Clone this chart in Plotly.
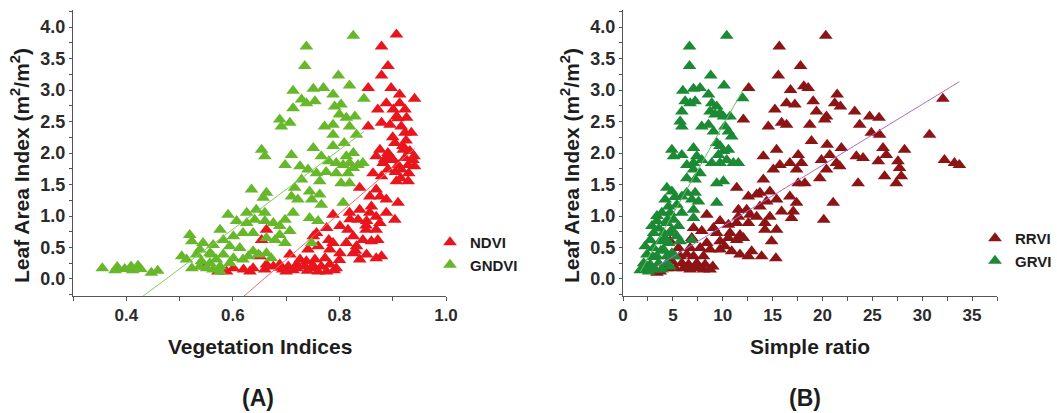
import plotly.graph_objects as go

# ---- Panel A: LAI vs. normalised vegetation indices ----
NDVI_X = [0.907, 0.879, 0.891, 0.879, 0.854, 0.897, 0.913, 0.941, 0.888, 0.872,
          0.913, 0.901, 0.923, 0.907, 0.926, 0.879, 0.895, 0.854, 0.916, 0.935,
          0.923, 0.904, 0.919, 0.876, 0.891, 0.932, 0.869, 0.901, 0.923, 0.938,
          0.882, 0.910, 0.929, 0.941, 0.891, 0.916, 0.863, 0.879, 0.907, 0.929,
          0.838, 0.869, 0.857, 0.876, 0.888, 0.910, 0.838, 0.857, 0.869, 0.888,
          0.788, 0.819, 0.835, 0.851, 0.876, 0.904, 0.801, 0.816, 0.850, 0.869,
          0.776, 0.757, 0.751, 0.826, 0.844, 0.872, 0.788, 0.813, 0.832, 0.760,
          0.741, 0.782, 0.801, 0.826, 0.851, 0.869, 0.879, 0.707, 0.726, 0.738,
          0.754, 0.773, 0.688, 0.704, 0.720, 0.735, 0.751, 0.766, 0.782, 0.794,
          0.676, 0.663, 0.638, 0.632, 0.601, 0.588, 0.572, 0.548, 0.654, 0.663,
          0.651, 0.694, 0.713, 0.760, 0.776, 0.838, 0.895, 0.920, 0.905, 0.930,
          0.915, 0.885, 0.940, 0.900, 0.925, 0.910, 0.860, 0.850, 0.830, 0.800,
          0.860, 0.820, 0.780, 0.750, 0.720, 0.690, 0.620, 0.660, 0.700, 0.740,
          0.790]
NDVI_Y = [3.88, 3.69, 3.38, 3.23, 3.03, 3.03, 2.93, 2.86, 2.79, 2.69,
          2.79, 2.69, 2.69, 2.58, 2.56, 2.48, 2.45, 2.42, 2.42, 2.32,
          2.32, 2.16, 2.11, 2.05, 2.00, 2.03, 1.95, 1.89, 1.92, 1.89,
          1.84, 1.81, 1.81, 1.79, 1.74, 1.74, 1.68, 1.63, 1.55, 1.55,
          1.45, 1.42, 1.31, 1.31, 1.26, 1.21, 1.10, 1.05, 0.99, 1.05,
          1.02, 1.05, 0.94, 0.92, 0.89, 0.94, 0.84, 0.78, 0.78, 0.78,
          0.81, 0.73, 0.68, 0.68, 0.62, 0.62, 0.57, 0.57, 0.52, 0.52,
          0.47, 0.47, 0.41, 0.41, 0.39, 0.33, 0.36, 0.39, 0.31, 0.28,
          0.31, 0.33, 0.23, 0.20, 0.17, 0.20, 0.17, 0.20, 0.23, 0.17,
          0.20, 0.23, 0.17, 0.12, 0.17, 0.12, 0.12, 0.20, 0.62, 0.78,
          0.36, 0.15, 0.14, 0.12, 0.12, 0.31, 1.95, 2.05, 1.70, 1.68,
          1.60, 1.90, 1.95, 2.25, 2.20, 2.55, 1.15, 0.85, 0.45, 0.30,
          0.60, 0.95, 0.62, 0.22, 0.23, 0.18, 0.15, 0.15, 0.12, 0.13,
          0.14]

GNDVI_X = [0.355, 0.379, 0.383, 0.397, 0.409, 0.412, 0.422, 0.427, 0.447, 0.459,
           0.738, 0.826, 0.735, 0.798, 0.819, 0.713, 0.751, 0.770, 0.788, 0.846,
           0.729, 0.713, 0.738, 0.754, 0.791, 0.803, 0.800, 0.813, 0.829, 0.688,
           0.707, 0.691, 0.772, 0.788, 0.819, 0.832, 0.788, 0.809, 0.751, 0.654,
           0.660, 0.710, 0.766, 0.813, 0.826, 0.794, 0.807, 0.819, 0.835, 0.844,
           0.698, 0.726, 0.741, 0.757, 0.729, 0.763, 0.803, 0.819, 0.744, 0.763,
           0.748, 0.766, 0.807, 0.710, 0.722, 0.713, 0.698, 0.688, 0.744, 0.760,
           0.707, 0.688, 0.698, 0.679, 0.663, 0.748, 0.635, 0.663, 0.657, 0.660,
           0.644, 0.626, 0.641, 0.660, 0.676, 0.591, 0.607, 0.626, 0.638, 0.619,
           0.601, 0.576, 0.582, 0.563, 0.544, 0.519, 0.523, 0.538, 0.557, 0.594,
           0.613, 0.629, 0.648, 0.663, 0.672, 0.504, 0.513, 0.523, 0.538, 0.551,
           0.563, 0.576, 0.576, 0.594, 0.541, 0.557, 0.569, 0.601, 0.532, 0.560,
           0.582, 0.619, 0.638, 0.788, 0.716, 0.816, 0.826, 0.794, 0.775, 0.780]
GNDVI_Y = [0.17, 0.14, 0.19, 0.16, 0.20, 0.14, 0.21, 0.16, 0.10, 0.13,
           3.69, 3.86, 3.38, 3.23, 3.07, 2.99, 3.02, 3.03, 2.93, 2.86,
           2.85, 2.71, 2.79, 2.82, 2.74, 2.77, 2.61, 2.56, 2.58, 2.53,
           2.48, 2.42, 2.42, 2.45, 2.42, 2.29, 2.29, 2.16, 2.08, 2.05,
           1.95, 1.97, 1.95, 1.95, 2.00, 1.84, 1.81, 1.84, 1.81, 1.84,
           1.81, 1.79, 1.74, 1.68, 1.58, 1.55, 1.52, 1.52, 1.39, 1.34,
           1.26, 1.18, 1.21, 1.31, 1.26, 1.05, 0.94, 0.84, 0.97, 0.92,
           0.76, 0.70, 0.57, 0.62, 0.65, 0.57, 1.42, 1.37, 1.29, 1.05,
           1.10, 1.05, 0.94, 0.92, 0.89, 1.02, 0.92, 0.89, 0.73, 0.73,
           0.68, 0.78, 0.62, 0.54, 0.57, 0.70, 0.60, 0.47, 0.41, 0.52,
           0.49, 0.36, 0.39, 0.41, 0.33, 0.36, 0.31, 0.17, 0.20, 0.17,
           0.15, 0.20, 0.12, 0.25, 0.28, 0.25, 0.31, 0.33, 0.39, 0.39,
           0.39, 0.31, 0.44, 2.11, 1.45, 1.68, 1.76, 1.68, 1.70, 1.87]

# ---- Panel B: LAI vs. simple ratios ----
RRVI_X = [20.33, 15.67, 17.80, 15.57, 12.60, 18.13, 18.57, 16.80, 21.47, 32.07,
          15.23, 16.40, 17.23, 19.07, 21.23, 21.80, 23.23, 19.40, 12.07, 20.40,
          20.23, 24.73, 25.67, 15.90, 16.40, 18.73, 14.57, 23.73, 24.90, 25.73,
          30.73, 18.90, 20.47, 21.90, 15.40, 26.07, 28.23, 14.07, 17.57, 20.73,
          23.40, 24.07, 26.40, 15.73, 16.73, 17.90, 19.90, 21.40, 21.73, 25.60,
          27.57, 32.23, 33.23, 33.73, 15.07, 17.40, 20.40, 27.73, 26.23, 27.90,
          14.07, 17.57, 18.23, 19.73, 23.57, 27.40, 11.40, 13.73, 14.73, 12.57,
          13.40, 15.40, 16.73, 14.40, 17.40, 21.07, 11.57, 12.40, 13.73, 15.90,
          17.07, 8.40, 11.57, 12.73, 13.40, 14.73, 9.73, 16.90, 20.13, 10.57,
          11.40, 12.57, 14.23, 15.40, 7.07, 7.90, 9.40, 14.23, 9.07, 10.73,
          11.73, 12.07, 6.90, 9.73, 10.57, 11.40, 14.90, 8.40, 7.73, 8.73,
          9.73, 10.90, 12.90, 11.73, 12.57, 13.90, 15.33, 6.40, 7.07, 5.73,
          8.07, 4.90, 5.90, 6.57, 7.40, 8.23, 4.40, 5.23, 6.07, 6.73,
          7.40, 8.07, 8.73, 3.73, 3.40, 4.73, 5.57, 6.73, 9.00, 10.20]
RRVI_Y = [3.86, 3.69, 3.38, 3.23, 3.03, 3.06, 3.03, 3.00, 2.93, 2.86,
          2.69, 2.79, 2.77, 2.82, 2.79, 2.74, 2.66, 2.66, 2.53, 2.58,
          2.53, 2.58, 2.56, 2.48, 2.45, 2.45, 2.42, 2.45, 2.32, 2.29,
          2.29, 2.19, 2.13, 2.08, 2.05, 2.08, 2.05, 1.95, 1.97, 1.97,
          1.95, 1.92, 1.97, 1.81, 1.84, 1.84, 1.89, 1.84, 1.79, 1.87,
          1.87, 1.89, 1.84, 1.81, 1.74, 1.74, 1.74, 1.76, 1.63, 1.63,
          1.58, 1.52, 1.52, 1.60, 1.52, 1.52, 1.45, 1.37, 1.39, 1.31,
          1.34, 1.26, 1.31, 1.23, 1.21, 1.21, 1.10, 1.10, 1.15, 1.07,
          1.07, 1.02, 0.99, 1.02, 0.99, 0.99, 0.92, 0.97, 0.94, 0.86,
          0.89, 0.89, 0.89, 0.78, 0.81, 0.76, 0.73, 0.78, 0.81, 0.73,
          0.70, 0.65, 0.65, 0.60, 0.65, 0.62, 0.60, 0.57, 0.49, 0.47,
          0.47, 0.44, 0.44, 0.39, 0.36, 0.36, 0.33, 0.39, 0.36, 0.36,
          0.36, 0.28, 0.25, 0.23, 0.25, 0.23, 0.17, 0.17, 0.17, 0.15,
          0.17, 0.15, 0.15, 0.12, 0.10, 0.60, 0.49, 0.49, 0.20, 0.52]

GRVI_X = [10.40, 6.67, 6.67, 8.80, 10.13, 6.00, 7.07, 7.73, 8.57, 12.00,
          6.23, 6.73, 7.23, 5.90, 8.90, 9.40, 8.73, 9.23, 9.73, 10.07,
          10.73, 5.73, 5.90, 7.90, 8.57, 9.07, 10.23, 10.57, 10.90, 9.40,
          9.73, 7.07, 4.90, 5.90, 5.07, 7.40, 9.57, 10.07, 10.57, 6.40,
          7.07, 7.90, 8.90, 9.73, 10.40, 11.07, 11.57, 7.07, 7.73, 6.40,
          7.23, 9.40, 10.07, 4.40, 4.90, 6.40, 7.23, 5.90, 6.90, 7.57,
          9.40, 4.57, 5.40, 7.07, 3.90, 4.73, 5.90, 5.07, 7.07, 3.40,
          4.40, 5.57, 3.07, 4.07, 4.90, 5.40, 2.73, 3.73, 4.57, 5.73,
          6.90, 3.07, 4.07, 4.90, 2.40, 3.40, 4.40, 5.23, 2.07, 2.73,
          3.57, 4.40, 1.90, 2.57, 3.23, 3.90, 4.73, 3.40, 4.23, 4.73,
          2.90, 2.23, 1.73, 3.60, 4.20, 3.00, 2.50, 3.80, 4.50, 5.20]
GRVI_Y = [3.86, 3.69, 3.38, 3.23, 3.07, 2.99, 3.02, 3.03, 2.93, 2.87,
          2.82, 2.79, 2.82, 2.66, 2.79, 2.74, 2.66, 2.61, 2.63, 2.58,
          2.58, 2.50, 2.42, 2.42, 2.45, 2.34, 2.42, 2.34, 2.26, 2.16,
          2.11, 2.08, 2.05, 1.97, 1.95, 1.95, 1.97, 2.03, 2.05, 1.81,
          1.84, 1.89, 1.84, 1.84, 1.89, 1.84, 1.84, 1.74, 1.68, 1.60,
          1.58, 1.52, 1.55, 1.45, 1.39, 1.37, 1.37, 1.31, 1.26, 1.23,
          1.21, 1.15, 1.18, 1.10, 1.05, 1.05, 1.05, 0.94, 0.97, 0.92,
          0.89, 0.84, 0.73, 0.73, 0.78, 0.68, 0.62, 0.60, 0.57, 0.60,
          0.62, 0.49, 0.47, 0.41, 0.39, 0.36, 0.36, 0.36, 0.25, 0.23,
          0.25, 0.25, 0.15, 0.12, 0.15, 0.15, 0.20, 1.00, 1.26, 0.73,
          0.84, 0.52, 0.14, 0.80, 0.65, 0.35, 0.20, 0.45, 0.95, 1.30]

# Linear fits (slope, intercept) for each index
FIT_NDVI = (7.31, -4.81)
FIT_GNDVI = (6.30, -2.99)
FIT_RRVI = (0.0967, -0.129)
FIT_GRVI = (0.28, -0.37)

C_NDVI, C_GNDVI = "#e8161c", "#67b72b"
C_RRVI, C_GRVI = "#8c1414", "#1c8a34"
L_NDVI, L_GNDVI = "#f06a6a", "#86c95a"
L_RRVI, L_GRVI = "#b868c8", "#63c06c"

BOLD = "Liberation Sans"
TXT = "#1d1d1d"
TICK = "#2b2b2b"


def fit_line(xs, fit):
    lo, hi = min(xs), max(xs)
    return [lo, hi], [fit[0] * lo + fit[1], fit[0] * hi + fit[1]]


def scatter(xs, ys, name, color, xa, ya, legend):
    return go.Scatter(x=xs, y=ys, mode="markers", name=name,
                      xaxis=xa, yaxis=ya, legend=legend,
                      marker=dict(symbol="triangle-up", size=12, color=color,
                                  line=dict(width=0)))


def line(xs, fit, color, xa, ya):
    lx, ly = fit_line(xs, fit)
    return go.Scatter(x=lx, y=ly, mode="lines", showlegend=False,
                      xaxis=xa, yaxis=ya, hoverinfo="skip",
                      line=dict(color=color, width=1))


fig = go.Figure()
fig.add_trace(scatter(NDVI_X, NDVI_Y, "NDVI", C_NDVI, "x", "y", "legend"))
fig.add_trace(scatter(GNDVI_X, GNDVI_Y, "GNDVI", C_GNDVI, "x", "y", "legend"))
fig.add_trace(line(NDVI_X, FIT_NDVI, L_NDVI, "x", "y"))
fig.add_trace(line(GNDVI_X, FIT_GNDVI, L_GNDVI, "x", "y"))
fig.add_trace(scatter(RRVI_X, RRVI_Y, "RRVI", C_RRVI, "x2", "y2", "legend2"))
fig.add_trace(scatter(GRVI_X, GRVI_Y, "GRVI", C_GRVI, "x2", "y2", "legend2"))
fig.add_trace(line(RRVI_X, FIT_RRVI, L_RRVI, "x2", "y2"))
fig.add_trace(line(GRVI_X, FIT_GRVI, L_GRVI, "x2", "y2"))

axis_common = dict(showline=True, linecolor="#555", linewidth=1, mirror=False,
                   showgrid=False, zeroline=False, ticks="outside",
                   tickcolor="#555", tickwidth=1)

yaxis_common = dict(axis_common, range=[-0.27, 4.27], tick0=0, dtick=0.5,
                    tickformat=".1f", ticklen=3,
                    minor=dict(dtick=0.25, tick0=0, ticks="outside", ticklen=3,
                               tickcolor="#555"),
                    tickfont=dict(family=BOLD, size=18, color=TICK, weight="bold"))

xtickfont = dict(family=BOLD, size=17, color=TICK, weight="bold")

W, H = 1057, 413
ML, MR, MT, MB = 73, 60, 10, 117
PW, PH = W - ML - MR, H - MT - MB


def px(xp):
    return (xp - ML) / PW


def py(yp):
    return (H - MB - yp) / PH


legend_font = dict(family=BOLD, size=15, color=TXT, weight="bold")

fig.update_layout(
    width=W, height=H,
    margin=dict(l=ML, r=MR, t=MT, b=MB, autoexpand=False),
    plot_bgcolor="white", paper_bgcolor="white",
    xaxis=dict(axis_common, domain=[0, px(446)], range=[0.3, 1.0],
               tick0=0.4, dtick=0.2, tickformat=".1f", ticklen=4,
               minor=dict(dtick=0.1, tick0=0.3, ticks="outside", ticklen=4,
                          tickcolor="#555"),
               tickfont=xtickfont, anchor="y"),
    yaxis=dict(yaxis_common, domain=[0, 1], anchor="x"),
    xaxis2=dict(axis_common, domain=[px(623), 1], range=[0, 37.5],
                tick0=0, dtick=5, ticklen=4,
                minor=dict(dtick=2.5, tick0=0, ticks="outside", ticklen=4,
                           tickcolor="#555"),
                tickfont=xtickfont, anchor="y2"),
    yaxis2=dict(yaxis_common, domain=[0, 1], anchor="x2"),
    legend=dict(x=px(430), y=py(226), xanchor="left", yanchor="top",
                bgcolor="rgba(0,0,0,0)", tracegroupgap=0, font=legend_font),
    legend2=dict(x=px(975), y=py(222), xanchor="left", yanchor="top",
                 bgcolor="rgba(0,0,0,0)", tracegroupgap=0, font=legend_font),
)

ytitle = "Leaf Area Index (m<sup>2</sup>/m<sup>2</sup>)"
annotations = [
    dict(text=ytitle, x=px(20), y=py(166), textangle=-90,
         font=dict(family=BOLD, size=21, color=TXT, weight="bold")),
    dict(text=ytitle, x=px(570), y=py(166), textangle=-90,
         font=dict(family=BOLD, size=21, color=TXT, weight="bold")),
    dict(text="Vegetation Indices", x=px(260), y=py(346),
         font=dict(family=BOLD, size=21, color=TXT, weight="bold")),
    dict(text="Simple ratio", x=px(810), y=py(346),
         font=dict(family=BOLD, size=21, color=TXT, weight="bold")),
    dict(text="(A)", x=px(258), y=py(398),
         font=dict(family=BOLD, size=23, color=TXT, weight="bold")),
    dict(text="(B)", x=px(805), y=py(398),
         font=dict(family=BOLD, size=23, color=TXT, weight="bold")),
]
for a in annotations:
    a.update(xref="paper", yref="paper", showarrow=False,
             xanchor="center", yanchor="middle")
fig.update_layout(annotations=annotations)

fig.write_html("out.html")
